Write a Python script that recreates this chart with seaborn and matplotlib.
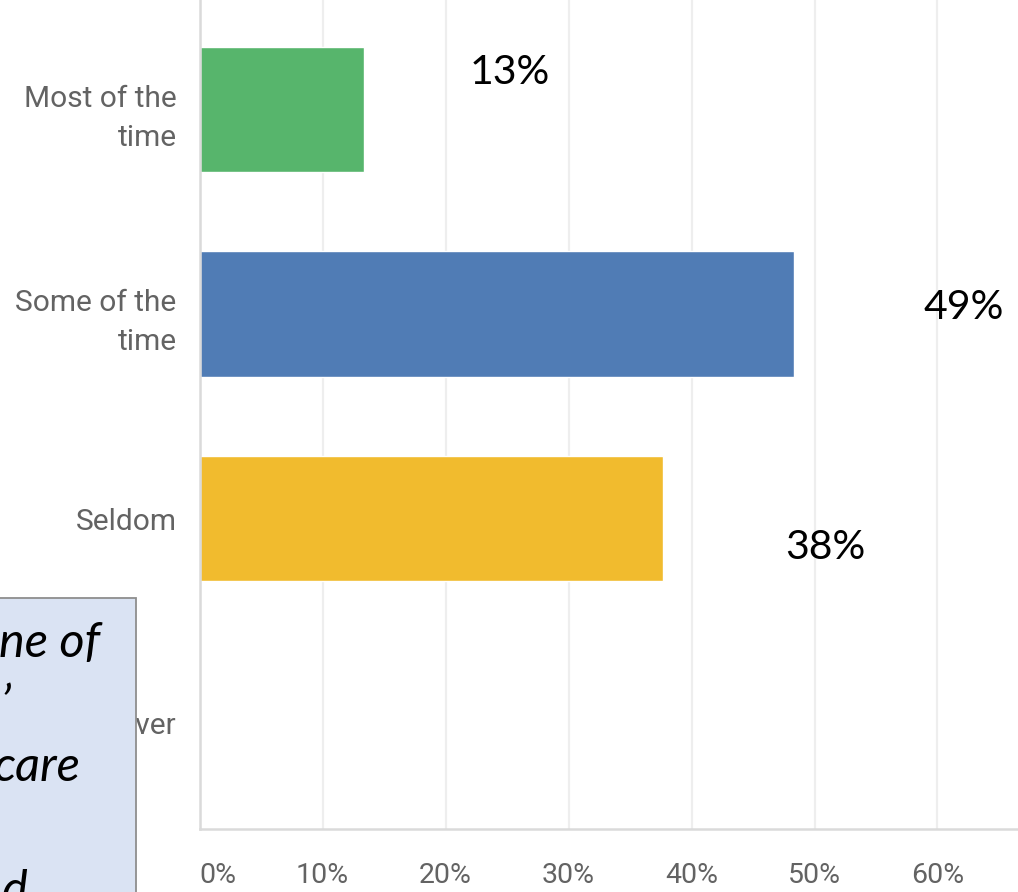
import matplotlib
matplotlib.use("Agg")
import matplotlib.pyplot as plt
import seaborn as sns
import pandas as pd
from matplotlib.patches import Rectangle

# ---------------- data ----------------
categories = ["Most of the time", "Some of the time", "Seldom", "Never"]
tick_labels = ["Most of the\ntime", "Some of the\ntime", "Seldom", "Never"]
values = [13.4, 48.3, 37.7, 0.0]
pct_labels = ["13%", "49%", "38%"]
x_ticks = [0, 10, 20, 30, 40, 50, 60]
x_tick_labels = ["0%", "10%", "20%", "30%", "40%", "50%", "60%"]
box_lines = ["ne of", "\u2019", "care", "", "d"]

# ---------------- style / layout ----------------
colors = ["#57B56C", "#507CB5", "#F1BB2E", "#9C9C9C"]
label_dx = [11.8, 13.8, 13.2]
label_dy = [-0.18, -0.03, 0.14]
box_right_px = [100, 10, 80, 0, 27]

W, H = 1018, 892
sns.set_theme(style="white")
plt.rcParams["font.family"] = ["Roboto", "DejaVu Sans"]

fig = plt.figure(figsize=(W / 100, H / 100), dpi=100)
x0_px, spine_px = 199.5, 829
ax = fig.add_axes([x0_px / W, (H - spine_px) / H, (W - x0_px) / W, spine_px / H])

df = pd.DataFrame({"category": categories, "value": values})
sns.barplot(data=df, x="value", y="category", hue="category", palette=colors,
            legend=False, width=0.616, saturation=1, ax=ax, zorder=2)

px_per_unit = 12.3
ax.set_xlim(0, (W - x0_px) / px_per_unit)
ax.set_ylim((spine_px - 109.5) / 204.5, -109.5 / 204.5)

ax.set_xticks(x_ticks)
ax.set_xticklabels(x_tick_labels)
ax.set_yticks(range(len(categories)))
ax.set_yticklabels(tick_labels, linespacing=1.5, ha="right")
ax.set_xlabel("")
ax.set_ylabel("")

ax.tick_params(axis="y", length=0, pad=16.5, labelsize=21.5, labelcolor="#636363")
ax.tick_params(axis="x", length=0, pad=24, labelsize=20.5, labelcolor="#636363")
ax.get_xticklabels()[0].set_ha("left")

ax.xaxis.grid(True, color="#EEEEEE", lw=1.6)
ax.yaxis.grid(False)
ax.set_axisbelow(True)
for s in ["top", "right"]:
    ax.spines[s].set_visible(False)
for s in ["left", "bottom"]:
    ax.spines[s].set_color("#DADADA")
    ax.spines[s].set_linewidth(1.8)

for i, lab in enumerate(pct_labels):
    ax.text(values[i] + label_dx[i], i + label_dy[i], lab, ha="center", va="center",
            fontsize=29.5, color="black", family=["Lato", "DejaVu Sans"], zorder=4)

# overlapping text box (bottom left)
box = Rectangle((-0.02, -0.02), 136 / W + 0.02, (H - 598) / H + 0.02,
                transform=fig.transFigure, facecolor="#DAE3F3",
                edgecolor="#8E8E8E", lw=1.3, zorder=10)
fig.add_artist(box)
for k, line in enumerate(box_lines):
    if not line:
        continue
    baseline_px = 657 + 62 * k
    fig.text(box_right_px[k] / W, (H - baseline_px) / H, line, ha="right",
             va="baseline", fontsize=35, style="italic", color="black",
             family=["Lato", "DejaVu Sans"], zorder=11)

fig.savefig("out.png", dpi=100)
